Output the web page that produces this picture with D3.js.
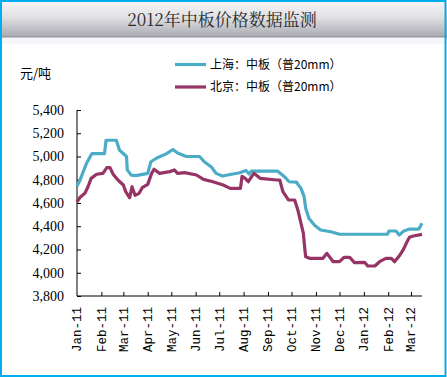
<!DOCTYPE html>
<html>
<head>
<meta charset="utf-8">
<script src="https://cdn.jsdelivr.net/npm/d3@7"></script>
<style>
  body { margin: 0; background: #fff; }
  svg { display: block; }
</style>
</head>
<body>
<div class="chartContainer"></div>
<script>
// Chart data
const title = "2012年中板价格数据监测";
const unitLabel = "元/吨";
const seriesNames = ["上海：中板（普20mm）", "北京：中板（普20mm）"];
const yTicks = [3800, 4000, 4200, 4400, 4600, 4800, 5000, 5200, 5400];
const monthLabels = ["Jan-11", "Feb-11", "Mar-11", "Apr-11", "May-11", "Jun-11", "Jul-11",
  "Aug-11", "Sep-11", "Oct-11", "Nov-11", "Dec-11", "Jan-12", "Feb-12", "Mar-12"];

const shDates = ["2011-01-01", "2011-01-05", "2011-01-13", "2011-01-20", "2011-02-05", "2011-02-07",
  "2011-02-20", "2011-02-24", "2011-03-05", "2011-03-06", "2011-03-11", "2011-03-17", "2011-04-01",
  "2011-04-05", "2011-04-12", "2011-04-25", "2011-05-03", "2011-05-09", "2011-05-20", "2011-06-06",
  "2011-06-12", "2011-06-21", "2011-06-27", "2011-07-05", "2011-07-27", "2011-08-04", "2011-08-08",
  "2011-08-11", "2011-09-13", "2011-09-22", "2011-09-28", "2011-10-07", "2011-10-13", "2011-10-17",
  "2011-10-19", "2011-10-23", "2011-10-30", "2011-11-07", "2011-11-20", "2011-12-01", "2012-01-31",
  "2012-02-02", "2012-02-11", "2012-02-15", "2012-02-21", "2012-02-28", "2012-03-11", "2012-03-15"];
const shValues = [4745, 4800, 4940, 5025, 5025, 5140,
  5140, 5055, 5000, 4885, 4840, 4835, 4855,
  4955, 4985, 5025, 5060, 5030, 5000, 5000,
  4955, 4910, 4855, 4832, 4860, 4880, 4850,
  4875, 4875, 4826, 4783, 4780, 4726, 4655,
  4555, 4468, 4410, 4368, 4353, 4331, 4331,
  4359, 4359, 4325, 4360, 4376, 4376, 4425];

const bjDates = ["2011-01-01", "2011-01-05", "2011-01-11", "2011-01-15", "2011-01-19", "2011-01-26",
  "2011-02-03", "2011-02-08", "2011-02-12", "2011-02-16", "2011-02-22", "2011-03-01", "2011-03-04",
  "2011-03-09", "2011-03-12", "2011-03-16", "2011-03-21", "2011-03-25", "2011-04-01", "2011-04-06",
  "2011-04-09", "2011-04-16", "2011-04-29", "2011-05-05", "2011-05-09", "2011-05-18", "2011-06-02",
  "2011-06-11", "2011-06-23", "2011-07-06", "2011-07-15", "2011-07-28", "2011-07-30", "2011-08-03",
  "2011-08-07", "2011-08-14", "2011-08-22", "2011-09-12", "2011-09-16", "2011-09-20", "2011-09-27",
  "2011-10-05", "2011-10-09", "2011-10-12", "2011-10-16", "2011-10-18", "2011-10-19", "2011-10-24",
  "2011-11-10", "2011-11-15", "2011-11-23", "2011-12-01", "2011-12-07", "2011-12-14", "2011-12-20",
  "2012-01-02", "2012-01-06", "2012-01-15", "2012-01-21", "2012-01-29", "2012-02-05", "2012-02-09",
  "2012-02-16", "2012-02-20", "2012-02-24", "2012-02-28", "2012-03-04", "2012-03-15"];
const bjValues = [4610, 4650, 4683, 4740, 4812, 4847,
  4855, 4904, 4904, 4847, 4798, 4755, 4698,
  4645, 4740, 4665, 4683, 4732, 4760, 4855,
  4890, 4855, 4870, 4884, 4855, 4861, 4841,
  4803, 4783, 4755, 4726, 4726, 4830, 4812,
  4783, 4855, 4812, 4798, 4798, 4698, 4626,
  4626, 4540, 4454, 4339, 4196, 4138, 4124,
  4124, 4167, 4095, 4095, 4133, 4133, 4087,
  4090, 4058, 4058, 4095, 4124, 4124, 4095,
  4153, 4196, 4253, 4305, 4316, 4330];

const colors = ["#4bacc6", "#963466"];
const parseDate = d3.timeParse("%Y-%m-%d");

const width = 447, height = 377;
const svg = d3.select(".chartContainer")
  .append("svg")
  .attr("width", width)
  .attr("height", height);

// Title bar gradient
const defs = svg.append("defs");
const grad = defs.append("linearGradient")
  .attr("id", "titleGrad")
  .attr("x1", 0).attr("y1", 0).attr("x2", 0).attr("y2", 1);
grad.append("stop").attr("offset", "0%").attr("stop-color", "#f7f7f9");
grad.append("stop").attr("offset", "45%").attr("stop-color", "#e2e2e6");
grad.append("stop").attr("offset", "100%").attr("stop-color", "#a9a9b1");

svg.append("rect")
  .attr("x", 0).attr("y", 0)
  .attr("width", width).attr("height", 37)
  .attr("fill", "url(#titleGrad)");
svg.append("line")
  .attr("x1", 0).attr("x2", width)
  .attr("y1", 37).attr("y2", 37)
  .attr("stroke", "#8a8a92")
  .attr("stroke-width", 1);
svg.append("rect")
  .attr("x", 0).attr("y", 38)
  .attr("width", width).attr("height", 6)
  .attr("fill", "#f6f6fa");

svg.append("text")
  .attr("x", 222)
  .attr("y", 20)
  .attr("dy", "0.35em")
  .attr("text-anchor", "middle")
  .attr("font-family", "'Noto Serif CJK SC', 'Noto Sans CJK SC', serif")
  .attr("font-size", 17)
  .attr("fill", "#2a2a2a")
  .text(title);

// Scales
const x = d3.scaleTime()
  .domain([new Date(2011, 0, 1), new Date(2012, 2, 15)])
  .range([77, 422]);
const y = d3.scaleLinear()
  .domain([3800, 5400])
  .range([296, 110]);

// Y axis
const yAxis = svg.append("g")
  .attr("transform", "translate(77,0)")
  .call(d3.axisRight(y).tickValues(yTicks).tickSize(4).tickFormat(""));
yAxis.select(".domain").attr("d", "M0,110V296");
yAxis.selectAll("line").attr("stroke", "#000");

svg.append("g")
  .selectAll("text")
  .data(yTicks)
  .enter()
  .append("text")
  .attr("x", 64)
  .attr("y", d => y(d))
  .attr("dy", "0.35em")
  .attr("text-anchor", "end")
  .attr("font-family", "'Liberation Serif', serif")
  .attr("font-size", 14)
  .attr("fill", "#000")
  .text(d => d3.format(",")(d));

// X axis
const monthTicks = d3.timeMonth.range(new Date(2011, 1, 1), new Date(2012, 2, 2));
const xAxis = svg.append("g")
  .attr("transform", "translate(0,296)")
  .call(d3.axisTop(x).tickValues(monthTicks).tickSize(4).tickFormat(""));
xAxis.select(".domain").attr("d", "M77,0H422");
xAxis.selectAll("line").attr("stroke", "#000");

const labelDates = d3.timeMonth.range(new Date(2011, 0, 1), new Date(2012, 2, 2));
svg.append("g")
  .selectAll("text")
  .data(labelDates)
  .enter()
  .append("text")
  .attr("transform", (d, i) => `translate(${i === 0 ? 77 : x(d)},307) rotate(-90)`)
  .attr("dy", "0.35em")
  .attr("text-anchor", "end")
  .attr("font-family", "'Liberation Mono', monospace")
  .attr("font-size", 12.5)
  .attr("fill", "#000")
  .text((d, i) => monthLabels[i]);

// Unit label
svg.append("text")
  .attr("x", 20)
  .attr("y", 73)
  .attr("dy", "0.35em")
  .attr("font-family", "'Noto Sans CJK SC', sans-serif")
  .attr("font-size", 13)
  .attr("fill", "#000")
  .text(unitLabel);

// Lines
const line = d3.line()
  .x(d => x(d.date))
  .y(d => y(d.value));

const series = [
  shDates.map((d, i) => ({ date: parseDate(d), value: shValues[i] })),
  bjDates.map((d, i) => ({ date: parseDate(d), value: bjValues[i] }))
];

svg.append("g")
  .selectAll("path")
  .data(series)
  .enter()
  .append("path")
  .attr("d", line)
  .attr("fill", "none")
  .attr("stroke", (d, i) => colors[i])
  .attr("stroke-width", 3.2)
  .attr("stroke-linejoin", "round");

// Legend
const legend = svg.append("g")
  .selectAll("g")
  .data(seriesNames)
  .enter()
  .append("g")
  .attr("transform", (d, i) => `translate(175,${64.5 + i * 22.5})`);
legend.append("line")
  .attr("x1", 0).attr("x2", 31)
  .attr("stroke", (d, i) => colors[i])
  .attr("stroke-width", 3.2);
legend.append("text")
  .attr("x", 35)
  .attr("dy", "0.35em")
  .attr("font-family", "'Noto Sans CJK SC', sans-serif")
  .attr("font-size", 12)
  .attr("fill", "#000")
  .text(d => d);

// Outer border
svg.append("rect")
  .attr("x", 1).attr("y", 1)
  .attr("width", width - 2.5).attr("height", height - 2)
  .attr("fill", "none")
  .attr("stroke", "#00aeef")
  .attr("stroke-width", 2);
</script>
</body>
</html>
